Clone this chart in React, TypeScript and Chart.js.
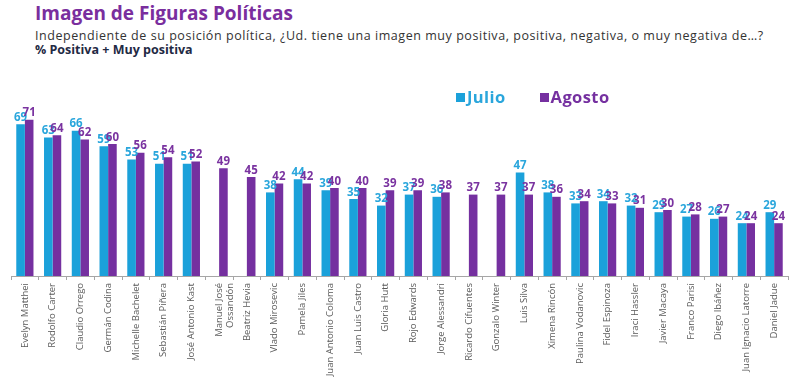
import React, { useEffect, useRef } from "react";
import { Chart, registerables } from "chart.js";

Chart.register(...registerables);

const categories: (string | string[])[] = [
  "Evelyn Matthei",
  "Rodolfo Carter",
  "Claudio Orrego",
  "Germán Codina",
  "Michelle Bachelet",
  "Sebastián Piñera",
  "José Antonio Kast",
  ["Manuel José", "Ossandón"],
  "Beatriz Hevia",
  "Vlado Mirosevic",
  "Pamela Jiles",
  "Juan Antonio Coloma",
  "Juan Luis Castro",
  "Gloria Hutt",
  "Rojo Edwards",
  "Jorge Alessandri",
  "Ricardo Cifuentes",
  "Gonzalo Winter",
  "Luis Silva",
  "Ximena Rincón",
  "Paulina Vodanovic",
  "Fidel Espinoza",
  "Iraci Hassler",
  "Javier Macaya",
  "Franco Parisi",
  "Diego Ibáñez",
  "Juan Ignacio Latorre",
  "Daniel Jadue",
];

const julio: (number | null)[] = [
  69, 63, 66, 59, 53, 51, 51, null, null, 38, 44, 39, 35, 32, 37, 36, null, null,
  47, 38, 33, 34, 32, 29, 27, 26, 24, 29,
];

const agosto: (number | null)[] = [
  71, 64, 62, 60, 56, 54, 52, 49, 45, 42, 42, 40, 40, 39, 39, 38, 37, 37, 37, 36,
  34, 33, 31, 30, 28, 27, 24, 24,
];

const seriesNames = ["Julio", "Agosto"];

const BLUE = "#1BA1DA";
const PURPLE = "#7530A0";
const FONT = "'Open Sans', 'DejaVu Sans', sans-serif";

const valueLabels = {
  id: "valueLabels",
  afterDatasetsDraw(chart: any) {
    const ctx = chart.ctx;
    ctx.save();
    ctx.font = `bold 11.5px ${FONT}`;
    ctx.textAlign = "center";
    ctx.textBaseline = "bottom";
    chart.data.datasets.forEach((ds: any, i: number) => {
      const meta = chart.getDatasetMeta(i);
      ctx.fillStyle = ds.labelColor;
      meta.data.forEach((el: any, j: number) => {
        const v = ds.data[j];
        if (v === null || v === undefined) return;
        ctx.fillText(String(v), el.x, el.y - 1);
      });
    });
    ctx.restore();
  },
};

export default function App() {
  const ref = useRef<HTMLCanvasElement | null>(null);

  useEffect(() => {
    if (!ref.current) return;
    const chart = new Chart(ref.current, {
      type: "bar",
      data: {
        labels: categories,
        datasets: [
          {
            label: seriesNames[0],
            data: julio,
            backgroundColor: BLUE,
            labelColor: "#2AA6DC",
            categoryPercentage: 0.62,
            barPercentage: 1.0,
          } as any,
          {
            label: seriesNames[1],
            data: agosto,
            backgroundColor: PURPLE,
            labelColor: "#7A33A0",
            categoryPercentage: 0.62,
            barPercentage: 1.0,
          } as any,
        ],
      },
      options: {
        animation: false,
        responsive: false,
        maintainAspectRatio: false,
        layout: { padding: { top: 10, left: 11, right: 12, bottom: 0 } },
        plugins: {
          legend: { display: false },
          tooltip: { enabled: false },
          title: { display: false },
        },
        scales: {
          y: {
            display: false,
            min: 0,
            max: 80,
          },
          x: {
            offset: true,
            grid: {
              display: true,
              offset: true,
              drawOnChartArea: false,
              drawTicks: true,
              tickLength: 4,
              color: "#A6A6A6",
            },
            border: { display: true, color: "#A6A6A6" },
            ticks: {
              maxRotation: 90,
              minRotation: 90,
              autoSkip: false,
              color: "#595959",
              font: { family: FONT, size: 9.5 },
              padding: 3,
            },
            afterFit: (scale: any) => {
              scale.height = 111;
            },
          } as any,
        },
      },
      plugins: [valueLabels],
    });
    return () => chart.destroy();
  }, []);

  return (
    <div
      style={{
        position: "absolute",
        left: 0,
        top: 0,
        width: 800,
        height: 387,
        background: "#fff",
        overflow: "hidden",
        fontFamily: FONT,
      }}
    >
      <div
        style={{
          position: "absolute",
          left: 35,
          top: 0,
          fontSize: 19,
          fontWeight: 700,
          color: "#7A2E9E",
          whiteSpace: "nowrap",
          lineHeight: "26px",
        }}
      >
        Imagen de Figuras Políticas
      </div>
      <div
        style={{
          position: "absolute",
          left: 35,
          top: 28,
          fontSize: 12.5,
          letterSpacing: "0.55px",
          color: "#333",
          whiteSpace: "nowrap",
          lineHeight: "16px",
        }}
      >
        Independiente de su posición política, ¿Ud. tiene una imagen muy positiva, positiva, negativa, o muy negativa de…?
      </div>
      <div
        style={{
          position: "absolute",
          left: 35,
          top: 42,
          fontSize: 12.5,
          fontWeight: 700,
          color: "#1F2A44",
          whiteSpace: "nowrap",
          lineHeight: "16px",
        }}
      >
        % Positiva + Muy positiva
      </div>
      <canvas
        ref={ref}
        width={800}
        height={297}
        style={{ position: "absolute", left: 0, top: 90, width: 800, height: 297 }}
      />
      <div
        style={{
          position: "absolute",
          left: 456,
          top: 86,
          display: "flex",
          alignItems: "center",
          fontSize: 16.5,
          letterSpacing: "0.4px",
          fontWeight: 700,
          whiteSpace: "nowrap",
          lineHeight: "22px",
        }}
      >
        <span style={{ display: "inline-block", width: 9, height: 9, background: BLUE, marginRight: 2 }} />
        <span style={{ color: "#2AA6DC" }}>{seriesNames[0]}</span>
        <span style={{ display: "inline-block", width: 9, height: 9, background: PURPLE, marginLeft: 34, marginRight: 2 }} />
        <span style={{ color: PURPLE }}>{seriesNames[1]}</span>
      </div>
    </div>
  );
}
